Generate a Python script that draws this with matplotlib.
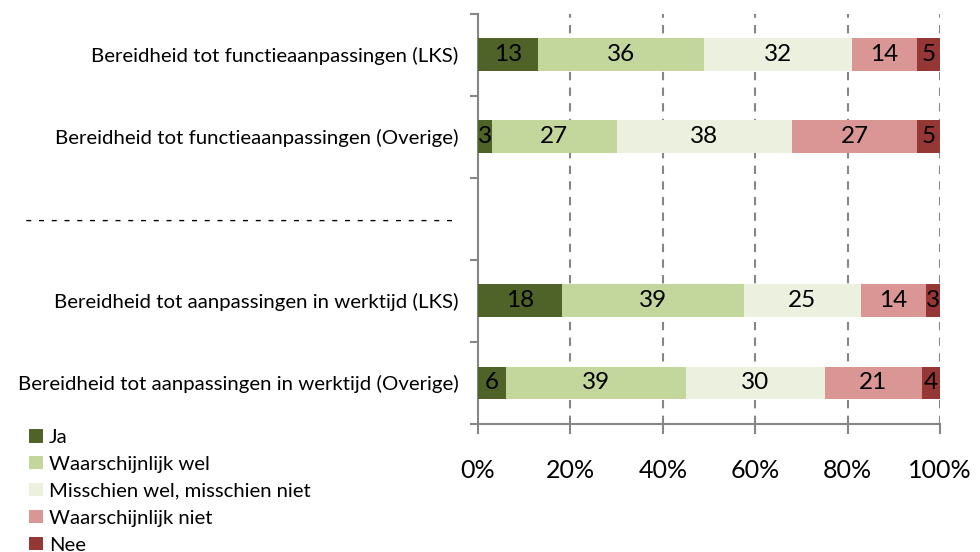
import matplotlib
matplotlib.use('Agg')
import matplotlib.pyplot as plt
import numpy as np
from matplotlib.patches import Patch

plt.rcParams['font.family'] = ['Lato', 'DejaVu Sans']

categories = [
    "Bereidheid tot functieaanpassingen (LKS)",
    "Bereidheid tot functieaanpassingen (Overige)",
    "- " * 34,
    "Bereidheid tot aanpassingen in werktijd (LKS)",
    "Bereidheid tot aanpassingen in werktijd (Overige)",
]
series_names = ["Ja", "Waarschijnlijk wel", "Misschien wel, misschien niet",
                "Waarschijnlijk niet", "Nee"]
ja = [13, 3, np.nan, 18, 6]
waarschijnlijk_wel = [36, 27, np.nan, 39, 39]
misschien = [32, 38, np.nan, 25, 30]
waarschijnlijk_niet = [14, 27, np.nan, 14, 21]
nee = [5, 5, np.nan, 3, 4]
xtick_labels = ["0%", "20%", "40%", "60%", "80%", "100%"]
colors = ["#4F6228", "#C3D69B", "#EBF1DE", "#D99694", "#953735"]

series = np.array([ja, waarschijnlijk_wel, misschien, waarschijnlijk_niet, nee], dtype=float)
totals = np.nansum(series, axis=0)

fig = plt.figure(figsize=(9.8, 5.52), dpi=100)
ax = fig.add_axes([0.4878, 0.232, 0.4714, 0.743])

y = np.arange(len(categories))
left = np.zeros(len(categories))
for i, name in enumerate(series_names):
    vals = series[i]
    for j in range(len(categories)):
        if np.isnan(vals[j]):
            continue
        w = vals[j] / totals[j] * 100
        ax.barh(y[j], w, left=left[j], height=0.4, color=colors[i], zorder=3)
        ax.text(left[j] + w / 2, y[j], f"{int(vals[j])}", ha='center', va='center',
                fontsize=17.5, color='black', zorder=4)
        left[j] += w

ax.set_xlim(0, 100)
ax.set_ylim(len(categories) - 0.5, -0.5)

gray = "#868686"
ax.set_xticks(np.linspace(0, 100, 6))
ax.set_xticklabels(xtick_labels, fontsize=18)
ax.tick_params(axis='x', length=7, width=1.5, color=gray, pad=18)

ax.set_yticks(np.arange(len(categories) + 1) - 0.5)
ax.set_yticklabels([])
ax.tick_params(axis='y', which='major', length=6, width=1.5, color=gray)
ax.set_yticks(y, minor=True)
ax.set_yticklabels(categories, minor=True, fontsize=14.7)
ax.tick_params(axis='y', which='minor', length=0, pad=14)

for xv in [20, 40, 60, 80, 100]:
    ax.axvline(xv, color=gray, lw=1.5, linestyle=(0, (4, 3.5)), zorder=1)

for s in ['top', 'right']:
    ax.spines[s].set_visible(False)
for s in ['left', 'bottom']:
    ax.spines[s].set_color(gray)
    ax.spines[s].set_linewidth(1.5)

handles = [Patch(facecolor=c, edgecolor='none') for c in colors]
fig.legend(handles, series_names, loc='upper left', bbox_to_anchor=(0.03, 0.223),
           frameon=False, fontsize=14.6, handlelength=0.65, handleheight=0.65,
           handletextpad=0.3, labelspacing=0.49, borderpad=0, borderaxespad=0)

fig.savefig("out.png", dpi=100)
